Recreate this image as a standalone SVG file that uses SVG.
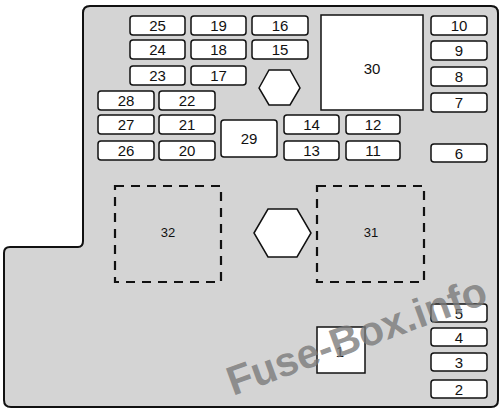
<svg xmlns="http://www.w3.org/2000/svg" width="500" height="413" viewBox="0 0 500 413">
<style>
.f{fill:#fff;stroke:#111;stroke-width:1.5}
.d{fill:none;stroke:#111;stroke-width:2.2;stroke-dasharray:9,7}
.t{font-family:"Liberation Sans",Arial,sans-serif;font-size:15px;fill:#111;text-anchor:middle;dominant-baseline:central}
.s{font-family:"Liberation Sans",Arial,sans-serif;font-size:13px;fill:#111;text-anchor:middle;dominant-baseline:central}
.w{font-family:"Liberation Sans",Arial,sans-serif;font-weight:bold;font-size:41px;fill:#7a7a7a;fill-opacity:0.8}
</style>
<rect width="500" height="413" fill="#fff"/>
<path d="M90,6 H491 Q498,6 498,13 V400 Q498,407 491,407 H11 Q4,407 4,400 V253 Q4,247 10,247 H78 Q83,247 83,241 V13 Q83,6 90,6 Z" fill="#d4d4d4" stroke="#111" stroke-width="2"/>
<g id="f25"><rect class="f" x="130" y="16" width="55" height="19" rx="3"/><text class="t" x="157.5" y="25.5">25</text></g>
<g id="f19"><rect class="f" x="191" y="16" width="55" height="19" rx="3"/><text class="t" x="218.5" y="25.5">19</text></g>
<g id="f16"><rect class="f" x="252" y="16" width="56" height="19" rx="3"/><text class="t" x="280" y="25.5">16</text></g>
<g id="f24"><rect class="f" x="130" y="40" width="55" height="19" rx="3"/><text class="t" x="157.5" y="49.5">24</text></g>
<g id="f18"><rect class="f" x="191" y="40" width="55" height="19" rx="3"/><text class="t" x="218.5" y="49.5">18</text></g>
<g id="f15"><rect class="f" x="252" y="40" width="56" height="19" rx="3"/><text class="t" x="280" y="49.5">15</text></g>
<g id="f23"><rect class="f" x="130" y="66" width="55" height="19" rx="3"/><text class="t" x="157.5" y="75.5">23</text></g>
<g id="f17"><rect class="f" x="191" y="66" width="55" height="19" rx="3"/><text class="t" x="218.5" y="75.5">17</text></g>
<g id="f28"><rect class="f" x="98" y="91" width="56" height="19" rx="3"/><text class="t" x="126" y="100.5">28</text></g>
<g id="f22"><rect class="f" x="159" y="91" width="56" height="19" rx="3"/><text class="t" x="187" y="100.5">22</text></g>
<g id="f27"><rect class="f" x="98" y="115" width="56" height="19" rx="3"/><text class="t" x="126" y="124.5">27</text></g>
<g id="f21"><rect class="f" x="159" y="115" width="56" height="19" rx="3"/><text class="t" x="187" y="124.5">21</text></g>
<g id="f26"><rect class="f" x="98" y="141" width="56" height="19" rx="3"/><text class="t" x="126" y="150.5">26</text></g>
<g id="f20"><rect class="f" x="159" y="141" width="56" height="19" rx="3"/><text class="t" x="187" y="150.5">20</text></g>
<g id="f29"><rect class="f" x="221" y="120" width="56" height="37" rx="3"/><text class="t" x="249" y="138.5">29</text></g>
<g id="f14"><rect class="f" x="284" y="115" width="55" height="19" rx="3"/><text class="t" x="311.5" y="124.5">14</text></g>
<g id="f12"><rect class="f" x="346" y="115" width="54" height="19" rx="3"/><text class="t" x="373" y="124.5">12</text></g>
<g id="f13"><rect class="f" x="284" y="141" width="55" height="19" rx="3"/><text class="t" x="311.5" y="150.5">13</text></g>
<g id="f11"><rect class="f" x="346" y="141" width="54" height="19" rx="3"/><text class="t" x="373" y="150.5">11</text></g>
<g id="f30"><rect class="f" x="321" y="15" width="102" height="95"/><text class="t" x="372" y="68">30</text></g>
<g id="f10"><rect class="f" x="431" y="16" width="56" height="19" rx="3"/><text class="t" x="459" y="25.5">10</text></g>
<g id="f9"><rect class="f" x="431" y="41" width="56" height="19" rx="3"/><text class="t" x="459" y="50.5">9</text></g>
<g id="f8"><rect class="f" x="431" y="67" width="56" height="19" rx="3"/><text class="t" x="459" y="76.5">8</text></g>
<g id="f7"><rect class="f" x="431" y="93" width="56" height="19" rx="3"/><text class="t" x="459" y="102.5">7</text></g>
<g id="f6"><rect class="f" x="431" y="144" width="56" height="18" rx="3"/><text class="t" x="459" y="153">6</text></g>
<g id="hex1"><polygon class="f" points="259,88 269,70 290,70 300,88 290,105 269,105"/></g>
<g id="hex2"><polygon class="f" points="254,233 268,209 297,209 311,233 297,257 268,257"/></g>
<g id="f32"><rect class="d" x="115" y="186" width="106" height="96"/><text class="s" x="168" y="232">32</text></g>
<g id="f31"><rect class="d" x="317" y="186" width="107" height="96"/><text class="s" x="371" y="232">31</text></g>
<g id="f1"><rect class="f" x="317" y="327" width="48" height="46"/><text class="t" x="340" y="351">1</text></g>
<g id="f5"><rect class="f" x="431" y="304" width="56" height="18" rx="3"/><text class="t" x="459" y="313">5</text></g>
<g id="f4"><rect class="f" x="431" y="328" width="56" height="18" rx="3"/><text class="t" x="459" y="337">4</text></g>
<g id="f3"><rect class="f" x="431" y="353" width="56" height="18" rx="3"/><text class="t" x="459" y="362">3</text></g>
<g id="f2"><rect class="f" x="431" y="380" width="56" height="18" rx="3"/><text class="t" x="459" y="389">2</text></g>
<g id="connectors"></g>
<text class="w" transform="translate(233,396) rotate(-20)">Fuse-Box.info</text>
</svg>
